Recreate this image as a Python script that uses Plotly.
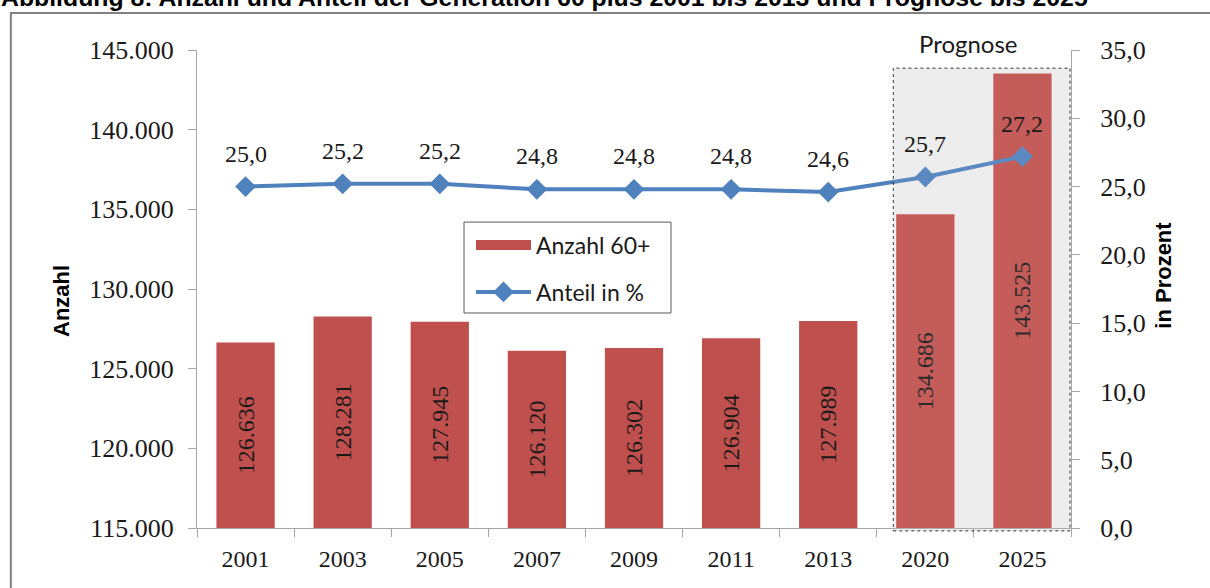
import plotly.graph_objects as go

years = ["2001", "2003", "2005", "2007", "2009", "2011", "2013", "2020", "2025"]
anzahl = [126636, 128281, 127945, 126120, 126302, 126904, 127989, 134686, 143525]
anteil = [25.0, 25.2, 25.2, 24.8, 24.8, 24.8, 24.6, 25.7, 27.2]
y_min, y_max = 115000, 145000

BAR = "#C0504D"
LINE = "#4F81BD"
AX = "#A6A6A6"
SERIF = "Liberation Serif, Times New Roman, serif"
SANS = "Lato, Liberation Sans, sans-serif"
NARROW = "Liberation Sans Narrow, Liberation Sans, Arial, sans-serif"

fig = go.Figure()
# bars start at the bottom of the visible axis so that the inside labels sit in the visible part
fig.add_trace(go.Bar(
    x=years, y=[v - y_min for v in anzahl], base=y_min, customdata=anzahl,
    name="Anzahl 60+", showlegend=False,
    marker=dict(color=BAR, line=dict(width=0)),
    texttemplate="%{customdata:,.0f}", textposition="inside", insidetextanchor="middle",
    textangle=-90, textfont=dict(family=SERIF, size=24, color="#1a1a1a"),
    hovertemplate="%{x}: %{customdata:,.0f}<extra></extra>",
))
# legend-only entry drawn as a wide block
fig.add_trace(go.Scatter(
    x=[None], y=[None], mode="lines", name="Anzahl 60+",
    line=dict(color=BAR, width=14), legend="legend",
))
fig.add_trace(go.Scatter(
    x=years, y=anteil, name="Anteil in %", yaxis="y2", mode="lines+markers",
    line=dict(color=LINE, width=4), marker=dict(symbol="diamond", size=16, color=LINE),
    legend="legend2",
))

for i, v in enumerate(anteil):
    fig.add_annotation(x=i, y=v, xref="x", yref="y2", text=f"{v:.1f}".replace(".", ","),
                       showarrow=False, yshift=33,
                       font=dict(family=SERIF, size=24, color="#1a1a1a"))

legend_style = dict(xanchor="left", yanchor="middle", bgcolor="rgba(0,0,0,0)", borderwidth=0,
                    font=dict(family=SANS, size=23, color="#1a1a1a"), itemwidth=55)

fig.update_layout(
    width=1210, height=588,
    margin=dict(l=197, r=139, t=50, b=60),
    paper_bgcolor="white", plot_bgcolor="white",
    separators=",.",
    bargap=0.4,
    showlegend=True,
    legend=dict(x=0.3135, y=0.592, **legend_style),
    legend2=dict(x=0.3135, y=0.4937, **legend_style),
    xaxis=dict(type="category", categoryarray=years, range=[-0.5, 8.5],
               showline=True, linecolor=AX, linewidth=1,
               ticks="outside", ticklen=8, tickcolor=AX, tickson="boundaries",
               ticklabelstandoff=9,
               tickfont=dict(family=SERIF, size=24, color="#1a1a1a"),
               showgrid=False, zeroline=False),
    xaxis2=dict(overlaying="x", range=[-0.5, 8.5], tick0=-0.5, dtick=1,
                ticks="inside", ticklen=8, tickcolor=AX, showticklabels=False,
                showline=False, showgrid=False, zeroline=False, anchor="y"),
    yaxis=dict(range=[y_min, y_max], dtick=5000, tickformat=",.0f",
               showline=True, linecolor=AX, linewidth=1,
               ticks="outside", ticklen=8, tickcolor=AX, ticklabelstandoff=9,
               tickfont=dict(family=SERIF, size=26, color="#1a1a1a"),
               showgrid=False, zeroline=False),
    yaxis3=dict(overlaying="y", range=[y_min, y_max], dtick=5000,
                ticks="inside", ticklen=8, tickcolor=AX, showticklabels=False,
                showline=False, showgrid=False, zeroline=False, anchor="x"),
    yaxis2=dict(range=[0, 35], dtick=5, tickformat=".1f", overlaying="y", side="right",
                showline=True, linecolor=AX, linewidth=1,
                ticks="outside", ticklen=8, tickcolor=AX, ticklabelstandoff=15,
                tickfont=dict(family=SERIF, size=26, color="#1a1a1a"),
                showgrid=False, zeroline=False),
    yaxis4=dict(overlaying="y", side="right", range=[0, 35], dtick=5,
                ticks="inside", ticklen=8, tickcolor=AX, showticklabels=False,
                showline=False, showgrid=False, zeroline=False, anchor="x"),
)

# legend frame
fig.add_shape(type="rect", xref="paper", yref="paper", x0=0.3055, x1=0.5423, y0=0.4498, y1=0.640,
              fillcolor="white", line=dict(color="#595959", width=1), layer="above")

# Prognose box
fig.add_shape(type="rect", xref="x", yref="paper", x0=6.67, x1=8.49, y0=-0.006, y1=0.962,
              fillcolor="#EDEDED", line=dict(width=0), layer="below")
fig.add_shape(type="rect", xref="x", yref="paper", x0=6.67, x1=8.49, y0=-0.006, y1=0.962,
              fillcolor="rgba(236,236,236,0.08)", line=dict(color="#333333", width=1, dash="dot"),
              layer="above")
fig.add_annotation(x=7.44, y=1.0, xref="x", yref="paper", yanchor="bottom", yshift=-10,
                   text="Prognose", showarrow=False,
                   font=dict(family=SANS, size=24, color="#1a1a1a"))

# Axis titles
fig.add_annotation(x=-0.171, y=0.475, xref="paper", yref="paper", text="<b>Anzahl</b>",
                   textangle=-90, showarrow=False,
                   font=dict(family=NARROW, size=22, color="#000000"))
fig.add_annotation(x=1.1225, y=0.529, xref="paper", yref="paper", text="<b>in Prozent</b>",
                   textangle=-90, showarrow=False,
                   font=dict(family=NARROW, size=22, color="#000000"))

# Outer frame and cut-off heading
fig.add_shape(type="rect", xref="paper", yref="paper", x0=-0.213, x1=1.3, y0=-0.3, y1=1.0774,
              line=dict(color="#808080", width=2), fillcolor="rgba(0,0,0,0)", layer="below")
fig.add_annotation(x=-0.226, y=1.0765, xref="paper", yref="paper", xanchor="left", yanchor="bottom",
                   text="<b>Abbildung 8: Anzahl und Anteil der Generation 60 plus 2001 bis 2013 und Prognose bis 2025</b>",
                   showarrow=False, font=dict(family="Liberation Sans, Arial, sans-serif", size=24.8, color="#000000"))

fig.write_html("out.html", config={"displayModeBar": False},
               post_script="document.body.style.margin='0';document.body.style.overflow='hidden';")
